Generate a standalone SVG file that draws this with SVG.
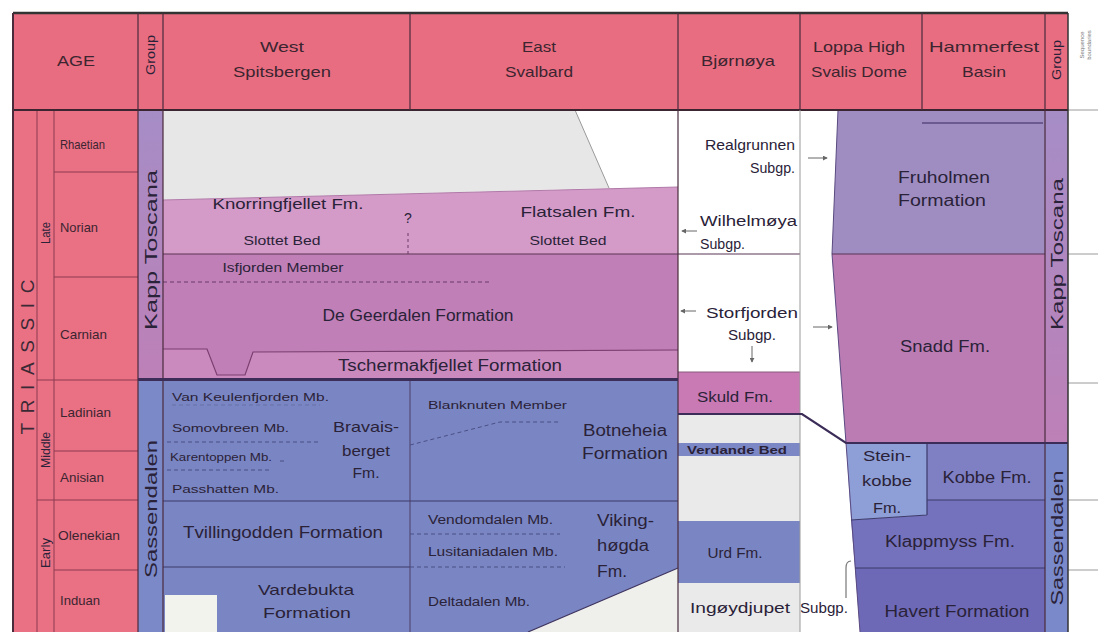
<svg xmlns="http://www.w3.org/2000/svg" width="1098" height="632" viewBox="0 0 1098 632">
<defs>
<style>
text{font-family:"Liberation Sans",Arial,sans-serif;fill:#2a2238}
.c{text-anchor:middle}
.s{text-anchor:start}
.e{text-anchor:end}
.h{font-size:15px;fill:#3b2530}
.f16{font-size:16px}
.f15{font-size:15px}
.f14{font-size:14px}
.f13{font-size:13px;fill:#3b2530}
.f12{font-size:12px}
.f11{font-size:11px}
.f10{font-size:10px}
.sep{stroke:#4a2b3c;stroke-width:1.2;fill:none}
.thin{stroke:#8b3b50;stroke-width:1;fill:none}
.blue{stroke:#3b3a6a;stroke-width:1.2;fill:none}
.dash{stroke:#4b4f85;stroke-width:1;stroke-dasharray:4 3;fill:none}
.gray{stroke:#9a9a9a;stroke-width:1;fill:none}
.arr{stroke:#666;stroke-width:1;fill:none;marker-end:url(#ah)}
</style>
<linearGradient id="kt" x1="0" y1="0" x2="0" y2="1"><stop offset="0" stop-color="#a68dc6"/><stop offset="1" stop-color="#bd80b7"/></linearGradient>
<marker id="ah" viewBox="0 0 6 6" refX="5" refY="3" markerWidth="5" markerHeight="5" orient="auto"><path d="M0,0 L6,3 L0,6 z" fill="#666"/></marker>
</defs>
<rect width="1098" height="632" fill="#fff"/>

<g id="header">
<rect x="13" y="13" width="1055" height="97" fill="#e96d80"/>
<text class="h c" x="76" y="66" textLength="38" lengthAdjust="spacingAndGlyphs">AGE</text>
<text class="f12 c" transform="translate(155,55) rotate(-90)" textLength="40" lengthAdjust="spacingAndGlyphs" fill="#3b2530">Group</text>
<text class="h c" x="282" y="52" textLength="44" lengthAdjust="spacingAndGlyphs">West</text>
<text class="h c" x="282" y="77" textLength="98" lengthAdjust="spacingAndGlyphs">Spitsbergen</text>
<text class="h c" x="539" y="52" textLength="34" lengthAdjust="spacingAndGlyphs">East</text>
<text class="h c" x="539" y="77" textLength="68" lengthAdjust="spacingAndGlyphs">Svalbard</text>
<text class="h c" x="738" y="66" textLength="74" lengthAdjust="spacingAndGlyphs">Bjørnøya</text>
<text class="h c" x="859" y="52" textLength="92" lengthAdjust="spacingAndGlyphs">Loppa High</text>
<text class="h c" x="859" y="77" textLength="96" lengthAdjust="spacingAndGlyphs">Svalis Dome</text>
<text class="h c" x="984" y="52" textLength="110" lengthAdjust="spacingAndGlyphs">Hammerfest</text>
<text class="h c" x="984" y="77" textLength="44" lengthAdjust="spacingAndGlyphs">Basin</text>
<text class="f12 c" transform="translate(1061,60) rotate(-90)" textLength="40" lengthAdjust="spacingAndGlyphs" fill="#3b2530">Group</text>
<text class="c" style="font-size:6px;fill:#777" transform="translate(1084,45) rotate(-90)">Sequence</text>
<text class="c" style="font-size:6px;fill:#777" transform="translate(1091,45) rotate(-90)">boundaries</text>
</g>

<g id="age-column">
<rect x="13" y="110" width="125" height="522" fill="#ea7084"/>
<text class="c" style="font-size:19px;fill:#3a2a35" transform="translate(34,357) rotate(-90)" textLength="155" lengthAdjust="spacing">TRIASSIC</text>
<text class="f12 c" fill="#3b2530" transform="translate(50,233) rotate(-90)" textLength="22" lengthAdjust="spacingAndGlyphs">Late</text>
<text class="f12 c" fill="#3b2530" transform="translate(50,450) rotate(-90)" textLength="36" lengthAdjust="spacingAndGlyphs">Middle</text>
<text class="f12 c" fill="#3b2530" transform="translate(50,553) rotate(-90)" textLength="30" lengthAdjust="spacingAndGlyphs">Early</text>
<text class="f13 s" x="60" y="149" textLength="45" lengthAdjust="spacingAndGlyphs">Rhaetian</text>
<text class="f13 s" x="60" y="232" textLength="38" lengthAdjust="spacingAndGlyphs">Norian</text>
<text class="f13 s" x="60" y="339" textLength="47" lengthAdjust="spacingAndGlyphs">Carnian</text>
<text class="f13 s" x="60" y="417" textLength="51" lengthAdjust="spacingAndGlyphs">Ladinian</text>
<text class="f13 s" x="60" y="482" textLength="44" lengthAdjust="spacingAndGlyphs">Anisian</text>
<text class="f13 s" x="58" y="540" textLength="62" lengthAdjust="spacingAndGlyphs">Olenekian</text>
<text class="f13 s" x="60" y="605" textLength="40" lengthAdjust="spacingAndGlyphs">Induan</text>
<path class="thin" d="M37,110 V632 M54,110 V632 M54,172 H138 M54,277 H138 M37,380 H138 M54,451 H138 M37,500 H138 M54,570 H138"/>
</g>

<g id="group-left">
<rect x="138" y="110" width="25" height="270" fill="url(#kt)"/>
<rect x="138" y="380" width="25" height="252" fill="#7b89c9"/>
<text class="f16 c" transform="translate(157,250) rotate(-90)" textLength="160" lengthAdjust="spacingAndGlyphs">Kapp Toscana</text>
<text class="f16 c" transform="translate(157,509) rotate(-90)" textLength="138" lengthAdjust="spacingAndGlyphs">Sassendalen</text>
</g>

<g id="kapp-toscana-svalbard">
<polygon points="163,110 575,110 609,188 163,200" fill="#e7e7e7"/>
<path class="gray" d="M575,110 L609,188"/>
<polygon points="163,200 678,187 678,254 163,254" fill="#d49bc8"/>
<path d="M163,200 L678,187" stroke="#b07aa8" stroke-width="1" fill="none"/>
<rect x="163" y="254" width="515" height="125" fill="#c07fb6"/>
<polygon points="163,349 207,349 217,375 245,375 253,352 678,350 678,379 163,379" fill="#cb8abe"/>
<path d="M163,349 L207,349 L217,375 L245,375 L253,352 L678,350" stroke="#7a3f70" stroke-width="1.2" fill="none"/>
<path d="M163,254 H800" stroke="#5a3555" stroke-width="1.2" fill="none"/>
<path d="M163,282 H492" stroke="#6a3a6a" stroke-width="1" stroke-dasharray="4 3" fill="none"/>
<path d="M408,233 V254" stroke="#6a3a6a" stroke-width="1" stroke-dasharray="3 3" fill="none"/>
<text class="f15 c" x="288" y="209" textLength="151" lengthAdjust="spacingAndGlyphs">Knorringfjellet Fm.</text>
<text class="f14 c" x="408" y="223">?</text>
<text class="f12 c" x="282" y="245" textLength="77" lengthAdjust="spacingAndGlyphs">Slottet Bed</text>
<text class="f15 c" x="578" y="217" textLength="115" lengthAdjust="spacingAndGlyphs">Flatsalen Fm.</text>
<text class="f12 c" x="568" y="245" textLength="77" lengthAdjust="spacingAndGlyphs">Slottet Bed</text>
<text class="f12 c" x="283" y="272" textLength="121" lengthAdjust="spacingAndGlyphs">Isfjorden Member</text>
<text class="f16 c" x="418" y="321" textLength="191" lengthAdjust="spacingAndGlyphs">De Geerdalen Formation</text>
<text class="f16 c" x="450" y="371" textLength="224" lengthAdjust="spacingAndGlyphs">Tschermakfjellet Formation</text>
</g>

<g id="sassendalen-svalbard">
<rect x="163" y="380" width="515" height="252" fill="#7a86c3"/>
<rect x="165" y="595" width="52" height="37" fill="#f3f3ee"/>
<polygon points="528,632 678,568 678,632" fill="#efefeb"/>
<path d="M528,632 L678,568" stroke="#3f3560" stroke-width="1.2" fill="none"/>
<path class="blue" d="M163,501 H678 M163,567 H410"/>
<path d="M410,380 V632" stroke="#4a3f6a" stroke-width="1" fill="none"/>
<path class="dash" d="M172,405 H320" stroke-opacity="0.4"/>
<path class="dash" d="M167,442 H320 M167,470 H270 M410,445 L500,422 L560,422 M410,534 H560 M410,567 H565"/>
<path class="dash" d="M280,461 H287" stroke-dasharray="none"/>
<text class="f11 s" x="172" y="401" textLength="157" lengthAdjust="spacingAndGlyphs">Van Keulenfjorden Mb.</text>
<text class="f11 s" x="172" y="432" textLength="117" lengthAdjust="spacingAndGlyphs">Somovbreen Mb.</text>
<text class="f10 s" x="170" y="461" textLength="102" lengthAdjust="spacingAndGlyphs">Karentoppen Mb.</text>
<text class="f11 s" x="172" y="493" textLength="107" lengthAdjust="spacingAndGlyphs">Passhatten Mb.</text>
<text class="f15 c" x="366" y="432" textLength="66" lengthAdjust="spacingAndGlyphs">Bravais-</text>
<text class="f15 c" x="366" y="456" textLength="48" lengthAdjust="spacingAndGlyphs">berget</text>
<text class="f15 c" x="366" y="478" textLength="27" lengthAdjust="spacingAndGlyphs">Fm.</text>
<text class="f16 c" x="283" y="538" textLength="200" lengthAdjust="spacingAndGlyphs">Tvillingodden Formation</text>
<text class="f15 c" x="306" y="595" textLength="96" lengthAdjust="spacingAndGlyphs">Vardebukta</text>
<text class="f15 c" x="307" y="618" textLength="88" lengthAdjust="spacingAndGlyphs">Formation</text>
<text class="f11 s" x="428" y="409" textLength="139" lengthAdjust="spacingAndGlyphs">Blanknuten Member</text>
<text class="f16 c" x="625" y="436" textLength="84" lengthAdjust="spacingAndGlyphs">Botneheia</text>
<text class="f16 c" x="625" y="459" textLength="86" lengthAdjust="spacingAndGlyphs">Formation</text>
<text class="f12 s" x="428" y="524" textLength="125" lengthAdjust="spacingAndGlyphs">Vendomdalen Mb.</text>
<text class="f12 s" x="428" y="556" textLength="130" lengthAdjust="spacingAndGlyphs">Lusitaniadalen Mb.</text>
<text class="f16 s" x="597" y="526" textLength="57" lengthAdjust="spacingAndGlyphs">Viking-</text>
<text class="f16 s" x="597" y="551" textLength="52" lengthAdjust="spacingAndGlyphs">høgda</text>
<text class="f16 s" x="597" y="577" textLength="30" lengthAdjust="spacingAndGlyphs">Fm.</text>
<text class="f12 s" x="428" y="606" textLength="102" lengthAdjust="spacingAndGlyphs">Deltadalen Mb.</text>
</g>

<g id="bjornoya">
<rect x="678" y="372" width="122" height="42" fill="#c97ab4"/>
<rect x="678" y="414" width="122" height="218" fill="#eaeaea"/>
<rect x="678" y="443" width="122" height="13" fill="#7c88c6"/>
<rect x="678" y="521" width="122" height="62" fill="#7a86c3"/>
<path d="M678,372 H800" stroke="#8a5a80" stroke-width="1" fill="none"/>
<text class="f14 e" x="795" y="150" textLength="90" lengthAdjust="spacingAndGlyphs">Realgrunnen</text>
<text class="f14 e" x="795" y="173" textLength="45" lengthAdjust="spacingAndGlyphs">Subgp.</text>
<text class="f14 s" x="700" y="226" textLength="97" lengthAdjust="spacingAndGlyphs">Wilhelmøya</text>
<text class="f14 s" x="700" y="249" textLength="45" lengthAdjust="spacingAndGlyphs">Subgp.</text>
<text class="f14 c" x="752" y="318" textLength="92" lengthAdjust="spacingAndGlyphs">Storfjorden</text>
<text class="f14 c" x="752" y="340" textLength="48" lengthAdjust="spacingAndGlyphs">Subgp.</text>
<text class="f15 c" x="735" y="402" textLength="76" lengthAdjust="spacingAndGlyphs">Skuld Fm.</text>
<text class="f10 c" x="737" y="454" font-weight="bold" textLength="100" lengthAdjust="spacingAndGlyphs">Verdande Bed</text>
<text class="f15 c" x="735" y="558" textLength="55" lengthAdjust="spacingAndGlyphs">Urd Fm.</text>
<text class="f15 s" x="690" y="613" textLength="100" lengthAdjust="spacingAndGlyphs">Ingøydjupet</text>
<text class="f15 s" x="800" y="613" textLength="48" lengthAdjust="spacingAndGlyphs">Subgp.</text>
</g>

<g id="loppa-hammerfest">
<polygon points="838,110 1045,110 1045,254 832,254" fill="#9f8dc2"/>
<polygon points="832,254 1045,254 1045,443 846,443" fill="#bb7cb4"/>
<polygon points="846,443 927,443 927,515 851,520" fill="#8e9ed6"/>
<rect x="927" y="443" width="118" height="57" fill="#7f80c4"/>
<polygon points="851,520 927,515 927,500 1045,500 1045,568 855,568" fill="#7472bd"/>
<polygon points="855,568 1045,568 1045,632 860,632" fill="#6d69b7"/>
<path d="M838,110 L832,254 L846,443 L860,632" stroke="#5a4a80" stroke-width="1" fill="none"/>
<path d="M922,123 H1043" stroke="#6a5a90" stroke-width="2" fill="none"/>
<path d="M832,254 H1068" stroke="#5a3555" stroke-width="1.2" fill="none"/>
<path class="blue" d="M927,443 V515 M927,500 H1045 M851,520 L927,515 M855,568 H1045"/>
<text class="f16 c" x="944" y="183" textLength="92" lengthAdjust="spacingAndGlyphs">Fruholmen</text>
<text class="f16 c" x="942" y="206" textLength="88" lengthAdjust="spacingAndGlyphs">Formation</text>
<text class="f16 c" x="945" y="352" textLength="90" lengthAdjust="spacingAndGlyphs">Snadd Fm.</text>
<text class="f15 c" x="887" y="461" textLength="48" lengthAdjust="spacingAndGlyphs">Stein-</text>
<text class="f15 c" x="887" y="486" textLength="50" lengthAdjust="spacingAndGlyphs">kobbe</text>
<text class="f15 c" x="887" y="513" textLength="28" lengthAdjust="spacingAndGlyphs">Fm.</text>
<text class="f16 c" x="987" y="483" textLength="89" lengthAdjust="spacingAndGlyphs">Kobbe Fm.</text>
<text class="f16 c" x="950" y="547" textLength="130" lengthAdjust="spacingAndGlyphs">Klappmyss Fm.</text>
<text class="f16 c" x="957" y="617" textLength="145" lengthAdjust="spacingAndGlyphs">Havert Formation</text>
</g>

<g id="group-right">
<rect x="1045" y="110" width="23" height="333" fill="url(#kt)"/>
<rect x="1045" y="443" width="23" height="189" fill="#7a89c9"/>
<text class="f16 c" transform="translate(1063,254) rotate(-90)" textLength="152" lengthAdjust="spacingAndGlyphs">Kapp Toscana</text>
<text class="f16 c" transform="translate(1063,538) rotate(-90)" textLength="135" lengthAdjust="spacingAndGlyphs">Sassendalen</text>
</g>

<g id="sequence-boundaries">
<path class="gray" d="M1068,110 H1098 M1068,254 H1098 M1068,383 H1098 M1068,500 H1098 M1068,570 H1098"/>
</g>

<g id="frame">
<path d="M13,13 H1068" stroke="#333" stroke-width="2.5" fill="none"/>
<path d="M13,110 H1068" stroke="#3a2530" stroke-width="2" fill="none"/>
<path d="M13,13 V632" stroke="#4a2b3c" stroke-width="2" fill="none"/>
<path class="sep" d="M138,13 V632 M163,13 V632 M410,13 V110 M678,13 V632 M800,13 V110 M922,13 V110 M1045,13 V632"/>
<path d="M1068,13 V632" stroke="#333" stroke-width="1.5" fill="none"/>
<path class="gray" d="M800,110 V632"/>
<path d="M138,379.5 H678" stroke="#3b2c58" stroke-width="3" fill="none"/>
<path d="M678,414 H802 L846,443 H1068" stroke="#3b2c58" stroke-width="2.2" fill="none"/>
</g>

<g id="connectors">
<path class="arr" d="M808,158 H827"/>
<path class="arr" d="M697,231 H682"/>
<path class="arr" d="M696,311 H681"/>
<path class="arr" d="M813,327 H832"/>
<path class="arr" d="M752,346 V362"/>
<path d="M846,598 V568 Q846,561 851,561" stroke="#777" stroke-width="1.2" fill="none"/>
</g>
</svg>
